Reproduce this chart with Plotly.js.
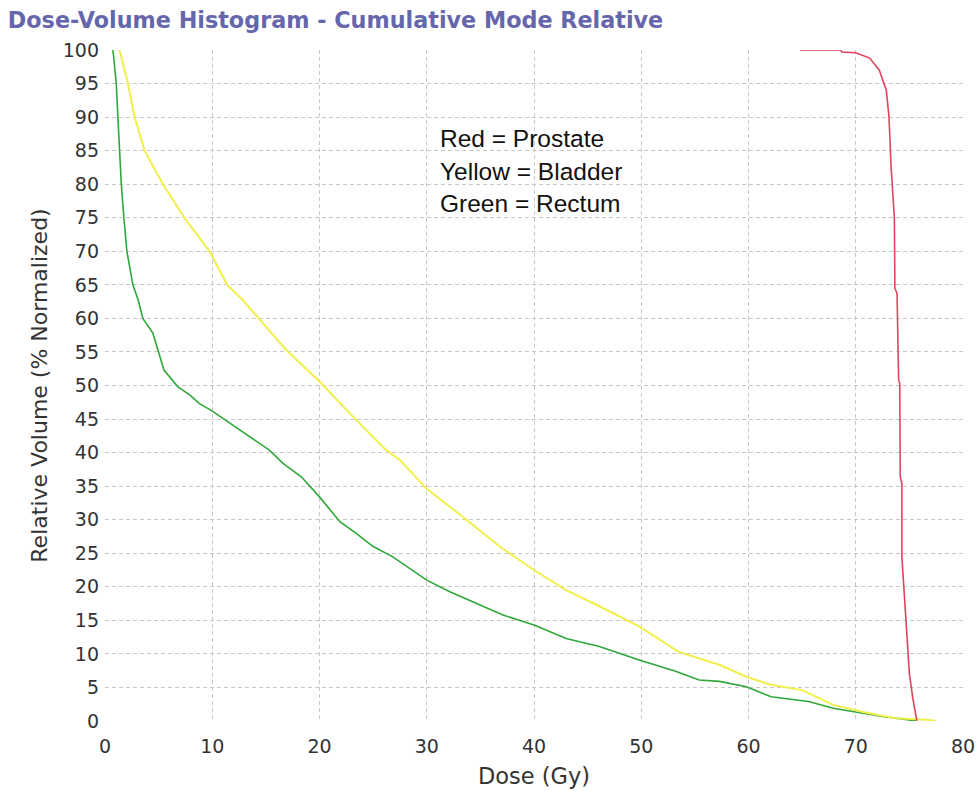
<!DOCTYPE html>
<html>
<head>
<meta charset="utf-8">
<script src="https://cdn.plot.ly/plotly-3.0.1.min.js"></script>
<style>html,body{margin:0;padding:0;background:#fff;}#chart{width:976px;height:791px;}</style>
</head>
<body>
<div id="chart"></div>
<script>
// Prostate (red)
const prostateDose = [64.8, 68.6, 68.7, 70.0, 71.3, 72.2, 72.85, 73.1, 73.3, 73.6, 73.65, 73.85, 74.0, 74.1, 74.15, 74.3, 74.3, 74.6, 74.8, 75.0, 75.3, 75.6, 75.7];
const prostateVol  = [100, 100, 99.7, 99.6, 98.8, 97.0, 94.0, 90.0, 82.5, 75.0, 64.5, 63.7, 50.8, 50.3, 36.4, 35.4, 24.5, 17.1, 11.1, 7.1, 3.6, 0.4, 0];

// Bladder (yellow)
const bladderDose = [1.36, 2.14, 2.76, 3.69, 5.4, 7.4, 9.75, 11.4, 12.85, 14.3, 16.9, 20.0, 23.1, 26.2, 27.5, 30.0, 33.7, 36.8, 40.0, 43.0, 46.1, 49.8, 53.5, 57.4, 59.8, 62.1, 65.0, 67.9, 70.8, 73.7, 76.6, 77.5];
const bladderVol  = [100, 95, 90, 85, 80, 75, 70, 65, 62.7, 60.0, 55.3, 50.6, 45.4, 40.4, 38.9, 34.6, 30.0, 26.0, 22.5, 19.5, 17.1, 14.1, 10.3, 8.3, 6.6, 5.4, 4.6, 2.4, 1.3, 0.4, 0.2, 0];

// Rectum (green)
const rectumDose = [0.74, 1.05, 1.2, 1.36, 1.52, 1.76, 2.04, 2.6, 3.1, 3.53, 4.46, 5.5, 6.8, 7.9, 8.8, 9.9, 11.6, 13.5, 15.3, 16.6, 18.3, 20.0, 21.9, 23.4, 25.0, 26.8, 28.2, 30.0, 32.1, 34.6, 37.1, 40.0, 43.0, 46.1, 49.8, 53.2, 55.4, 57.3, 59.8, 62.1, 65.6, 67.9, 70.2, 72.5, 74.8, 75.7];
const rectumVol  = [100, 95, 90, 85, 80, 75, 70, 65, 62.7, 60.0, 57.8, 52.3, 49.8, 48.6, 47.3, 46.3, 44.4, 42.4, 40.4, 38.4, 36.4, 33.4, 29.7, 28.0, 26.0, 24.5, 23.0, 21.0, 19.3, 17.6, 15.8, 14.3, 12.3, 11.1, 9.1, 7.4, 6.1, 5.9, 5.1, 3.6, 2.9, 1.9, 1.3, 0.67, 0.2, 0];

const xTicks = [0, 10, 20, 30, 40, 50, 60, 70, 80];
const yTicks = [0, 5, 10, 15, 20, 25, 30, 35, 40, 45, 50, 55, 60, 65, 70, 75, 80, 85, 90, 95, 100];
const legendLines = ["Red = Prostate", "Yellow = Bladder", "Green = Rectum"];

const traces = [
  {x: rectumDose, y: rectumVol, mode: 'lines', line: {color: '#2fa83a', width: 1.6}, name: 'Rectum'},
  {x: bladderDose, y: bladderVol, mode: 'lines', line: {color: '#f0f04a', width: 2}, name: 'Bladder'},
  {x: prostateDose, y: prostateVol, mode: 'lines', line: {color: '#e0445c', width: 1.6}, name: 'Prostate'}
];

const legendY = [0.8686, 0.8195, 0.7708];
const annotations = legendLines.map((t, i) => ({
  text: t, xref: 'paper', yref: 'paper', x: 0.388, y: legendY[i],
  xanchor: 'left', yanchor: 'middle', showarrow: false,
  font: {family: 'Liberation Sans, Arial, sans-serif', size: 24.5, color: '#111'}
}));

const layout = {
  width: 976, height: 791,
  margin: {l: 105, r: 13, t: 50, b: 70, pad: 0},
  paper_bgcolor: '#fff', plot_bgcolor: '#fff',
  showlegend: false,
  title: {
    text: 'Dose-Volume Histogram - Cumulative Mode Relative',
    x: 0.008, xanchor: 'left', xref: 'container',
    y: 0.974, yanchor: 'middle', yref: 'container',
    font: {family: 'DejaVu Sans, sans-serif', size: 22.3, color: '#6666ac', weight: 'bold'}
  },
  xaxis: {
    range: [0, 80], tickvals: xTicks, ticktext: xTicks.map(String),
    showgrid: true, gridcolor: '#c8c8c8', griddash: '4px,3px', gridwidth: 1,
    zeroline: false, showline: false, ticks: '', ticklabelstandoff: 12,
    tickfont: {family: 'DejaVu Sans, sans-serif', size: 19, color: '#333'},
    title: {text: 'Dose (Gy)', font: {family: 'DejaVu Sans, sans-serif', size: 22.5, color: '#333'}, standoff: 12}
  },
  yaxis: {
    range: [0, 100], tickvals: yTicks, ticktext: yTicks.map(String),
    showgrid: true, gridcolor: '#c8c8c8', griddash: '4px,3px', gridwidth: 1,
    zeroline: false, showline: false, ticks: '', ticklabelstandoff: 5,
    tickfont: {family: 'DejaVu Sans, sans-serif', size: 19, color: '#333'},
    title: {text: 'Relative Volume (% Normalized)', font: {family: 'DejaVu Sans, sans-serif', size: 22, color: '#333'}, standoff: 9}
  },
  annotations: annotations
};

Plotly.newPlot('chart', traces, layout, {displayModeBar: false, staticPlot: true});
</script>
</body>
</html>
